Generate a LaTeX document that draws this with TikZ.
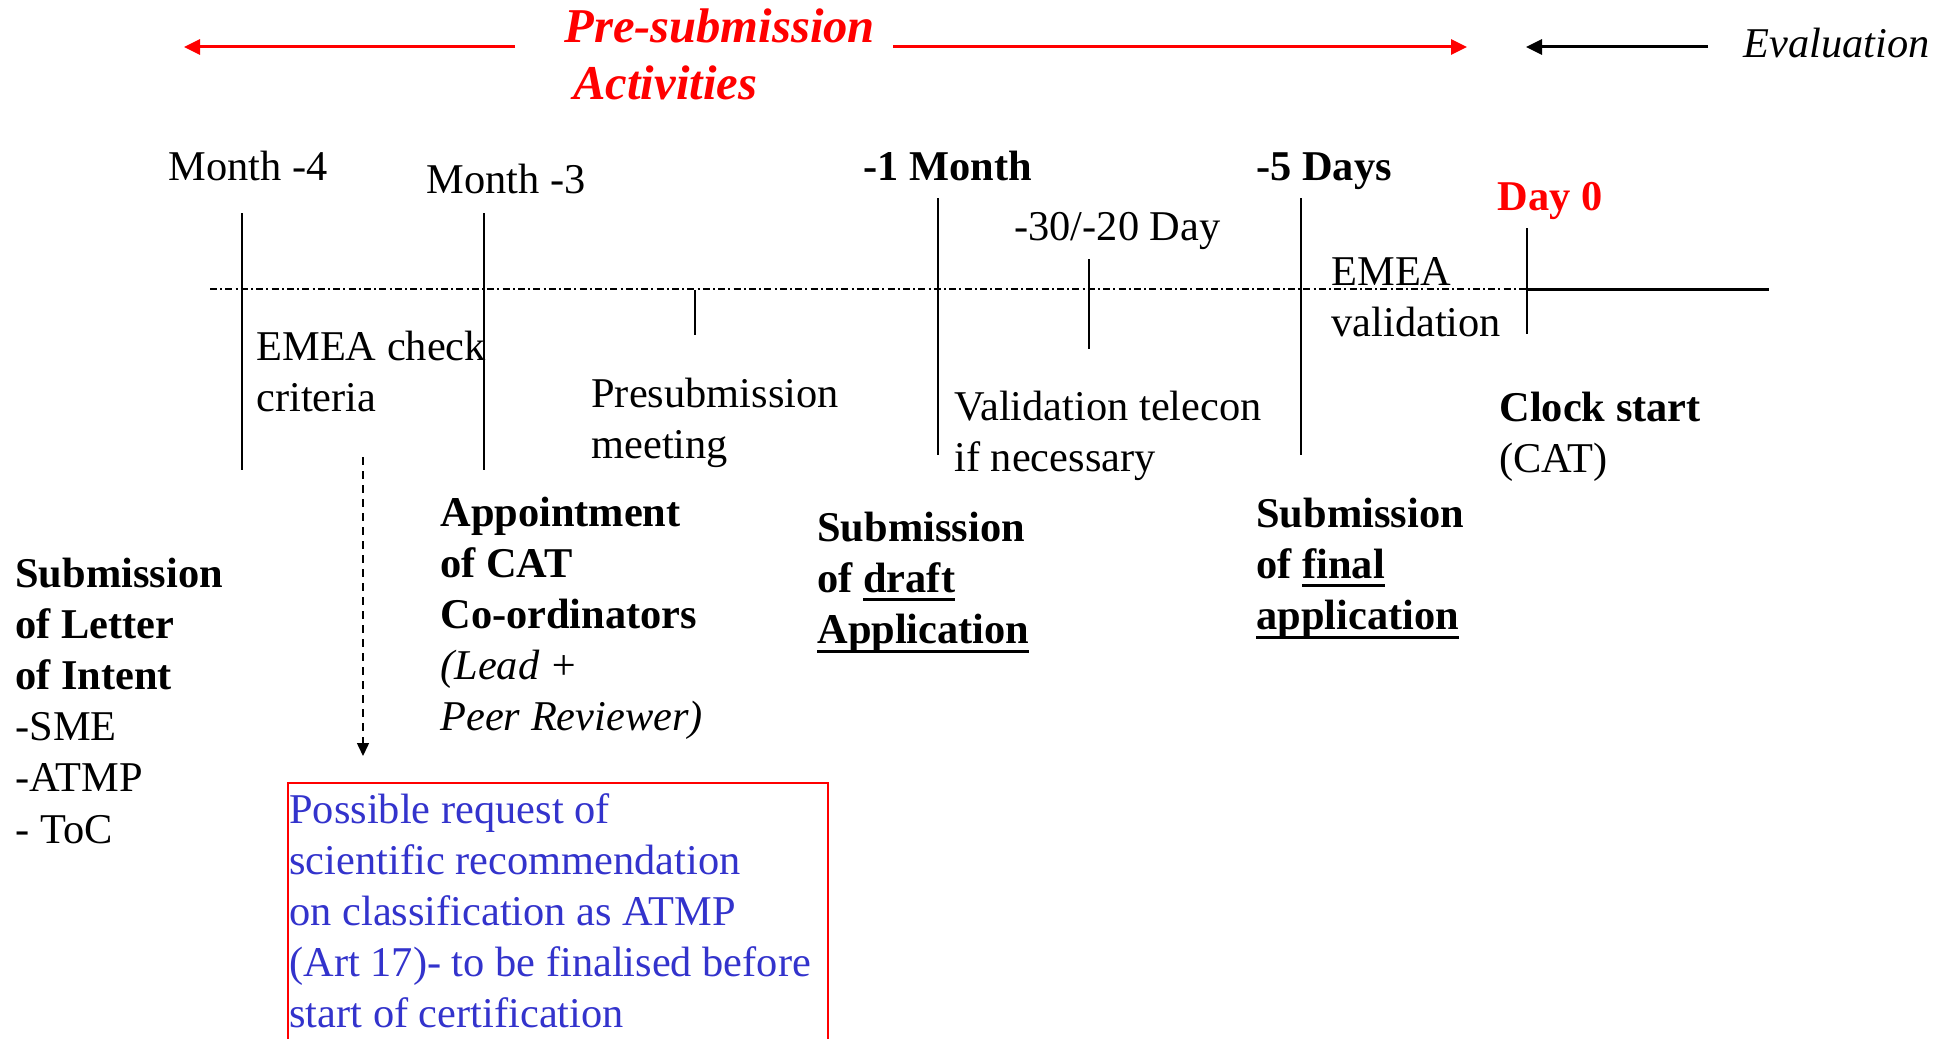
\documentclass[tikz,border=0pt]{standalone}
\usepackage{fontspec}
\setmainfont{Liberation Serif}
\usetikzlibrary{arrows.meta}
\definecolor{evred}{RGB}{255,0,0}
\definecolor{evblue}{RGB}{51,51,204}
\newcommand\myul[1]{\setbox0\hbox{#1}\rlap{\rule[-4.6pt]{\wd0}{1.5pt}}\copy0}
\newcommand\lns[1]{\vtop{\halign{##\hfil\cr#1\crcr}}}
\begin{document}
\begin{tikzpicture}[x=0.5pt,y=-0.5pt,
  txt/.style={font=\fontsize{21.2}{25.6}\selectfont, inner sep=0pt, anchor=base west},
  titletxt/.style={font=\fontsize{24.3}{28}\selectfont\bfseries\itshape, text=evred, inner sep=0pt, anchor=base west},
  vline/.style={line width=0.75pt},
  axisline/.style={line width=0.9pt, dash pattern=on 3.5pt off 1.6pt on 1pt off 1.6pt},
  redarrow/.style={evred, line width=1.5pt, -{Triangle[length=8pt,width=7.5pt]}},
  blackarrow/.style={black, line width=1.5pt, -{Triangle[length=8pt,width=7.5pt]}},
  dasharrow/.style={line width=0.75pt, dash pattern=on 4pt off 3pt, -{Triangle[length=6.5pt,width=6pt]}},
  boxline/.style={evred, line width=1pt}
]
\useasboundingbox (0,0) rectangle (1952,1038);

% top header
\node[titletxt] (pre) at (564,43) {Pre-submission};
\node[titletxt] (act) at (573,99) {Activities};
\coordinate (lstart) at (515,47);
\coordinate (lend) at (184,47);
\coordinate (rstart) at (893,47);
\coordinate (rend) at (1467,47);
\draw[redarrow] (lstart) -- (lend);
\draw[redarrow] (rstart) -- (rend);
\node[txt, font=\fontsize{21.2}{25.6}\selectfont\itshape] (eval) at (1743,58) {Evaluation};
\coordinate (estart) at (1708,47);
\coordinate (eend) at (1526,47);
\draw[blackarrow] (estart) -- (eend);

% time labels
\node[txt] (m4) at (168,180) {Month -4};
\node[txt] (m3) at (426,193) {Month -3};
\node[txt, font=\fontsize{21.2}{25.6}\selectfont\bfseries] (m1) at (863,180) {-1 Month};
\node[txt, font=\fontsize{21.2}{25.6}\selectfont\bfseries] (d5) at (1256,180) {-5 Days};
\node[txt, font=\fontsize{21.2}{25.6}\selectfont\bfseries, text=evred] (d0) at (1497,210) {Day 0};
\node[txt] (d30) at (1014,240) {-30/-20 Day};

% axis
\draw[axisline] (210,289) -- (1527,289);
\draw[line width=1.5pt] (1527,289) -- (1769,289);

% vertical marks
\draw[vline] (242,213) -- (242,470);
\draw[vline] (484,213) -- (484,470);
\draw[vline] (695,290) -- (695,335);
\draw[vline] (938,198) -- (938,455);
\draw[vline] (1089,259) -- (1089,349);
\draw[vline] (1301,198) -- (1301,455);
\draw[vline] (1527,228) -- (1527,334);

% middle texts
\node[txt] (emeacheck) at (256,360) {\lns{EMEA check\cr criteria}};
\node[txt] (presub) at (591,407) {\lns{Presubmission\cr meeting}};
\node[txt] (valtel) at (954,420) {\lns{Validation telecon\cr if necessary}};
\node[txt] (emeaval) at (1331,285) {\lns{EMEA\cr validation}};
\node[txt] (clock) at (1499,421) {\lns{\textbf{Clock start}\cr (CAT)}};

% bottom texts
\node[txt] (loi) at (15,587) {\lns{\textbf{Submission}\cr \textbf{of Letter}\cr \textbf{of Intent}\cr -SME\cr -ATMP\cr - ToC}};
\node[txt] (cat) at (440,526) {\lns{\textbf{Appointment}\cr \textbf{of CAT}\cr \textbf{Co-ordinators}\cr \textit{(Lead +}\cr \textit{Peer Reviewer)}}};
\node[txt, font=\fontsize{21.2}{25.6}\selectfont\bfseries] (draft) at (817,541) {\lns{Submission\cr of \myul{draft}\cr \myul{Application}}};
\node[txt, font=\fontsize{21.2}{25.6}\selectfont\bfseries] (final) at (1256,527) {\lns{Submission\cr of \myul{final}\cr \myul{application}}};

% dashed arrow
\coordinate (dtop) at (363,457);
\coordinate (dtip) at (363,756);
\draw[dasharrow] (dtop) -- (dtip);

% request box
\draw[boxline] (288,1045) -- (288,783) -- (828,783) -- (828,1045);
\node[txt, text=evblue] (req) at (289,823) {\lns{Possible request of\cr scientific recommendation\cr on classification as ATMP\cr (Art 17)- to be finalised before\cr start of certification}};
\end{tikzpicture}
\end{document}
